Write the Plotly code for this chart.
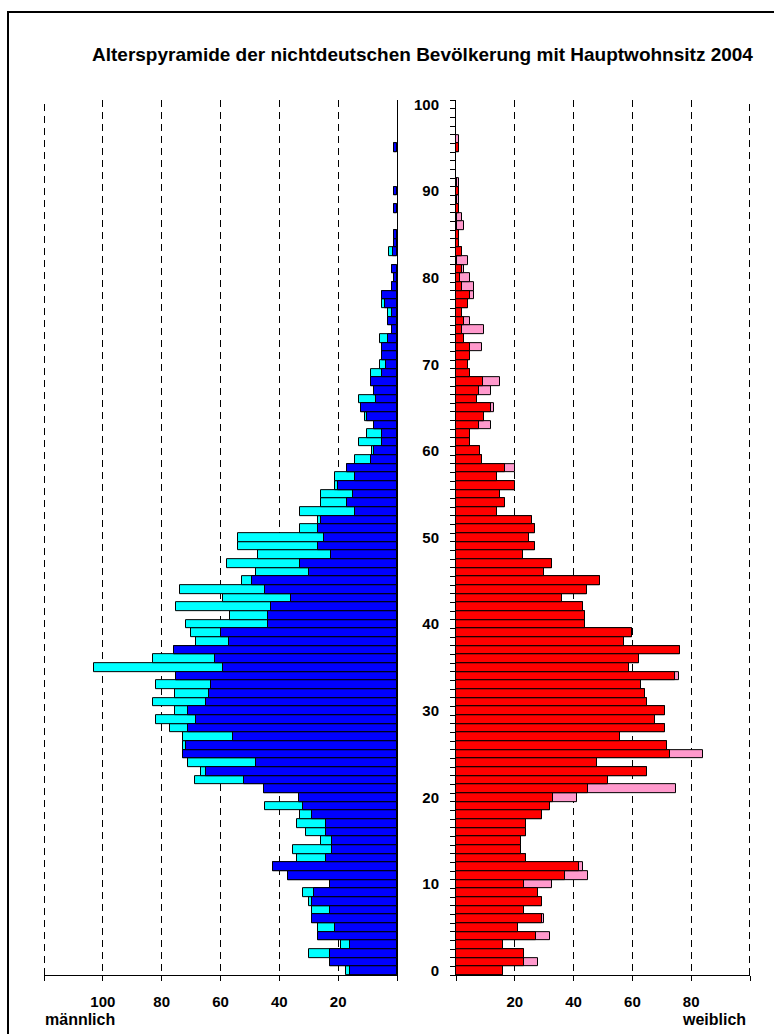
import plotly.graph_objects as go

ages = list(range(0, 101))

# Männer: dunkelblauer Anteil und Gesamtlänge (inkl. türkis)
male_blue = [15.9, 22.9, 22.9, 15.9, 26.9, 21.1, 29.0, 22.9, 29.0, 28.3,
             22.9, 36.9, 42.1, 24.0, 22.0, 22.0, 24.0, 24.0, 29.0, 31.9,
             33.3, 45.1, 52.1, 64.8, 47.8, 72.9, 71.6, 55.9, 70.9, 68.2,
             70.9, 64.8, 63.9, 63.2, 75.0, 59.1, 61.8, 75.9, 57.1, 59.8,
             43.7, 43.7, 42.8, 36.0, 44.8, 49.2, 29.9, 33.1, 22.6, 26.7,
             24.9, 26.7, 26.0, 14.3, 17.0, 15.0, 19.9, 14.3, 17.0, 8.8,
             7.9, 5.0, 5.0, 7.9, 10.2, 12.2, 7.0, 7.9, 8.8, 5.0,
             3.9, 5.0, 5.0, 2.9, 1.8, 2.9, 1.6, 4.1, 5.0, 1.7,
             1.0, 1.7, 0, 1.5, 1.0, 1.0, 0, 0, 1.0, 0,
             1.0, 0, 0, 0, 0, 1.0, 0, 0, 0, 0, 0]
male_total = [17.2, 22.9, 29.9, 19.2, 26.9, 26.9, 29.0, 29.0, 29.9, 31.9,
              22.9, 36.9, 42.1, 34.0, 35.3, 26.0, 31.0, 34.0, 33.1, 45.0,
              33.3, 45.1, 68.8, 66.8, 70.9, 72.9, 72.9, 72.9, 77.0, 82.0,
              75.6, 82.9, 75.6, 82.0, 75.0, 103.1, 82.9, 75.9, 68.2, 70.0,
              71.8, 56.9, 75.0, 59.0, 73.8, 52.8, 47.8, 57.8, 47.1, 54.0,
              54.0, 33.1, 27.0, 33.1, 26.0, 26.0, 21.1, 21.1, 17.0, 14.3,
              8.6, 12.9, 10.1, 7.9, 10.9, 12.2, 12.9, 7.9, 8.8, 8.8,
              5.9, 5.0, 5.0, 5.9, 1.8, 2.9, 2.9, 5.0, 5.0, 1.7,
              1.0, 1.7, 0, 2.8, 1.0, 1.0, 0, 0, 1.0, 0,
              1.0, 0, 0, 0, 0, 1.0, 0, 0, 0, 0, 0]

# Frauen: roter Anteil und Gesamtlänge (inkl. rosa)
female_red = [16.1, 23.0, 23.0, 16.1, 27.1, 21.0, 29.1, 23.0, 29.1, 27.8,
              23.0, 37.1, 42.0, 23.9, 22.2, 22.2, 23.9, 23.9, 29.1, 32.1,
              32.9, 44.9, 51.8, 65.0, 48.1, 72.8, 71.9, 55.9, 71.2, 67.8,
              71.2, 65.0, 64.2, 62.8, 74.6, 58.7, 62.1, 76.1, 57.1, 60.0,
              43.9, 43.9, 43.1, 36.1, 44.7, 48.9, 29.9, 32.8, 22.9, 27.0,
              24.9, 27.0, 25.7, 13.8, 16.8, 15.0, 20.0, 13.8, 16.8, 9.0,
              8.0, 4.9, 4.9, 7.9, 9.5, 11.8, 7.0, 7.9, 9.1, 4.9,
              4.1, 4.9, 4.9, 2.8, 1.9, 2.8, 1.9, 4.1, 4.9, 1.9,
              1.2, 1.9, 0.3, 1.9, 1.1, 1.1, 0.3, 0.3, 1.1, 0.3,
              1.1, 0.3, 0, 0, 0, 1.1, 0, 0, 0, 0, 0]
female_total = [16.1, 28.0, 23.0, 16.1, 32.1, 21.0, 30.0, 23.0, 29.1, 27.8,
                32.8, 44.9, 43.1, 23.9, 22.2, 22.2, 23.9, 23.9, 29.1, 32.1,
                41.0, 74.8, 51.8, 65.0, 48.1, 83.9, 71.9, 55.9, 71.2, 67.8,
                71.2, 65.0, 64.2, 62.8, 76.0, 58.7, 62.1, 76.1, 57.1, 60.0,
                43.9, 43.9, 43.1, 36.1, 44.7, 48.9, 29.9, 32.8, 22.9, 27.0,
                24.9, 27.0, 25.7, 13.8, 16.8, 15.0, 20.0, 13.8, 20.0, 9.0,
                8.0, 4.9, 4.9, 11.9, 9.5, 13.0, 7.0, 11.8, 15.1, 4.9,
                4.1, 4.9, 9.0, 2.8, 9.6, 4.9, 1.9, 4.1, 6.1, 6.1,
                4.9, 2.8, 4.0, 1.9, 1.1, 1.1, 2.8, 1.9, 1.1, 1.1,
                1.1, 1.1, 0, 0, 0, 1.1, 1.1, 0, 0, 0, 0]

left_ticks = [0, 20, 40, 60, 80, 100, 120]
left_labels = ["", "20", "40", "60", "80", "100", ""]
right_ticks = [0, 20, 40, 60, 80, 100]
right_labels = ["", "20", "40", "60", "80", ""]
age_ticks = [0, 10, 20, 30, 40, 50, 60, 70, 80, 90, 100]

title_text = "Alterspyramide der nichtdeutschen Bevölkerung mit Hauptwohnsitz 2004"

FONT = "Liberation Sans, Arial, sans-serif"
W, H = 774, 1034


def nz(arr):
    return [v if v > 0 else None for v in arr]


line = dict(color="black", width=1)
fig = go.Figure()
fig.add_trace(go.Bar(y=ages, x=nz(male_total), orientation="h", xaxis="x", yaxis="y",
                     marker=dict(color="#00FFFF", line=line), hoverinfo="x+y", showlegend=False))
fig.add_trace(go.Bar(y=ages, x=nz(male_blue), orientation="h", xaxis="x", yaxis="y",
                     marker=dict(color="#0000FF", line=line), hoverinfo="x+y", showlegend=False))
fig.add_trace(go.Bar(y=ages, x=nz(female_total), orientation="h", xaxis="x2", yaxis="y2",
                     marker=dict(color="#FF99CC", line=line), hoverinfo="x+y", showlegend=False))
fig.add_trace(go.Bar(y=ages, x=nz(female_red), orientation="h", xaxis="x2", yaxis="y2",
                     marker=dict(color="#FF0000", line=line), hoverinfo="x+y", showlegend=False))

ydom = [(H - 978.6) / H, (H - 96.9) / H]
xdom_left = [44 / W, 397 / W]
xdom_right = [456 / W, 750 / W]
tickfont = dict(family=FONT, size=15, color="black", weight="bold")
DASH = "7px,5px"

common_x = dict(ticks="outside", ticklen=5, tickcolor="black", tickwidth=1,
                showline=True, linecolor="black", linewidth=1,
                showgrid=True, gridcolor="black", gridwidth=1, griddash=DASH,
                zeroline=False, tickfont=tickfont, tickmode="array",
                ticklabelstandoff=8, fixedrange=True)

fig.update_layout(
    width=W, height=H,
    margin=dict(l=0, r=0, t=0, b=0),
    paper_bgcolor="white", plot_bgcolor="white",
    barmode="overlay", bargap=0,
    xaxis=dict(domain=xdom_left, range=[120, 0], anchor="y",
               tickvals=left_ticks, ticktext=left_labels, **common_x),
    yaxis=dict(domain=ydom, range=[-0.5, 100.5], anchor="x", side="right",
               showticklabels=False, ticks="", showgrid=False, zeroline=False,
               showline=True, linecolor="black", linewidth=1, fixedrange=True),
    xaxis2=dict(domain=xdom_right, range=[0, 100], anchor="y2",
                tickvals=right_ticks, ticktext=right_labels, **common_x),
    yaxis2=dict(domain=ydom, range=[-0.5, 100.5], anchor="x2", side="left",
                tickmode="array", tickvals=age_ticks, ticks="",
                tickfont=tickfont, ticklabelstandoff=13,
                minor=dict(ticks="outside", tick0=0.5, dtick=1, ticklen=5,
                           tickcolor="black", tickwidth=1, showgrid=False),
                showgrid=False, zeroline=False,
                showline=True, linecolor="black", linewidth=1, fixedrange=True),
    annotations=[
        dict(text=title_text, xref="paper", yref="paper", x=422 / W, y=1 - 51 / H,
             xanchor="center", yanchor="middle", showarrow=False,
             font=dict(family=FONT, size=19, color="black", weight="bold")),
        dict(text="männlich", xref="paper", yref="paper", x=43 / W, y=1 - 1023.5 / H,
             xanchor="left", yanchor="middle", showarrow=False,
             font=dict(family=FONT, size=16, color="black", weight="bold")),
        dict(text="weiblich", xref="paper", yref="paper", x=748 / W, y=1 - 1023.5 / H,
             xanchor="right", yanchor="middle", showarrow=False,
             font=dict(family=FONT, size=16, color="black", weight="bold")),
    ],
    shapes=[
        # dashed gridlines at the outer edges (120 left, 100 right)
        dict(type="line", xref="paper", yref="paper", x0=xdom_left[0] + 0.5 / W,
             x1=xdom_left[0] + 0.5 / W, y0=ydom[0], y1=ydom[1],
             line=dict(color="black", width=1, dash=DASH), layer="below"),
        dict(type="line", xref="paper", yref="paper", x0=xdom_right[1] - 0.5 / W,
             x1=xdom_right[1] - 0.5 / W, y0=ydom[0], y1=ydom[1],
             line=dict(color="black", width=1, dash=DASH), layer="below"),
        dict(type="rect", xref="paper", yref="paper", x0=8 / W, x1=1.2,
             y0=-0.2, y1=1 - 8 / H, line=dict(color="black", width=2),
             fillcolor="rgba(0,0,0,0)", layer="above"),
    ],
)

fig.write_html("out.html", config={"displayModeBar": False},
               post_script="document.body.style.margin='0';"
                           "document.body.style.overflow='hidden';")
